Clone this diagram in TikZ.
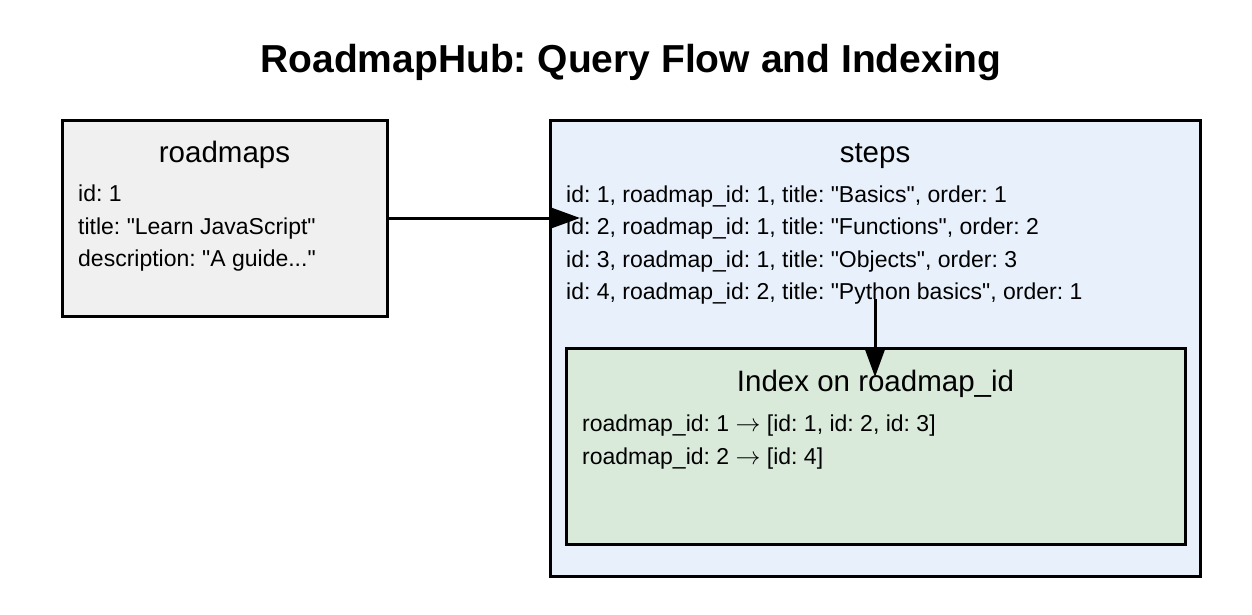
\documentclass[tikz,border=0pt]{standalone}
\usepackage{fontspec}
\setmainfont{Liberation Sans}[Ligatures=TeXOff]
\usetikzlibrary{arrows.meta}
\definecolor{grayfill}{HTML}{F0F0F0}
\definecolor{bluefill}{HTML}{E8F1FB}
\definecolor{greenfill}{HTML}{D9EADB}
\newcommand{\rarr}{\ensuremath{\rightarrow}}
\frenchspacing
\begin{document}
\begin{tikzpicture}[x=1pt,y=-1pt,
  box/.style={draw=black,line width=3pt},
  hdr/.style={anchor=base,inner sep=0pt,font=\frenchspacing\fontsize{29.5}{34}\selectfont},
  txt/.style={anchor=base west,inner sep=0pt,font=\frenchspacing\fontsize{23}{27}\selectfont},
  conn/.style={line width=3pt,-{Triangle[length=30pt,width=21pt]}}]
\useasboundingbox (0,0) rectangle (1252,614);
\node[anchor=base,inner sep=0pt,font=\frenchspacing\bfseries\fontsize{39}{44}\selectfont] (title) at (631,72) {RoadmapHub: Query Flow and Indexing};
% roadmaps
\draw[box,fill=grayfill] (62,120) rectangle (387,316);
\node[minimum width=325pt,minimum height=196pt,inner sep=0pt] (roadmaps) at (224.5,218) {};
\node[hdr] (rh) at (224.5,162) {roadmaps};
\node[txt] (r1) at (78,201) {id: 1};
\node[txt] (r2) at (78,234) {title: "Learn JavaScript"};
\node[txt] (r3) at (78,266) {description: "A guide..."};
% steps
\draw[box,fill=bluefill] (550,120) rectangle (1200,576);
\node[minimum width=650pt,minimum height=456pt,inner sep=0pt] (steps) at (875,348) {};
\node[hdr] (sh) at (875,162) {steps};
\node[txt] (s1) at (566,202) {id: 1, roadmap\_id: 1, title: "Basics", order: 1};
\node[txt] (s2) at (566,234.5) {id: 2, roadmap\_id: 1, title: "Functions", order: 2};
\node[txt] (s3) at (566,267) {id: 3, roadmap\_id: 1, title: "Objects", order: 3};
\node[txt] (s4) at (566,299.5) {id: 4, roadmap\_id: 2, title: "Python basics", order: 1};
% index
\draw[box,fill=greenfill] (566,348) rectangle (1185,544);
\node[minimum width=619pt,minimum height=196pt,inner sep=0pt] (index) at (875.5,446) {};
\node[hdr] (ih) at (875.5,391) {Index on roadmap\_id};
\node[txt] (i1) at (582,431) {roadmap\_id: 1 \rarr{} [id: 1, id: 2, id: 3]};
\node[txt] (i2) at (582,464) {roadmap\_id: 2 \rarr{} [id: 4]};
% connectors
\coordinate (t1) at (580,218);
\coordinate (f2) at (875,299);
\coordinate (t2) at (875,377);
\draw[conn] (roadmaps.east) -- (t1);
\draw[conn] (f2) -- (t2);
\end{tikzpicture}
\end{document}
